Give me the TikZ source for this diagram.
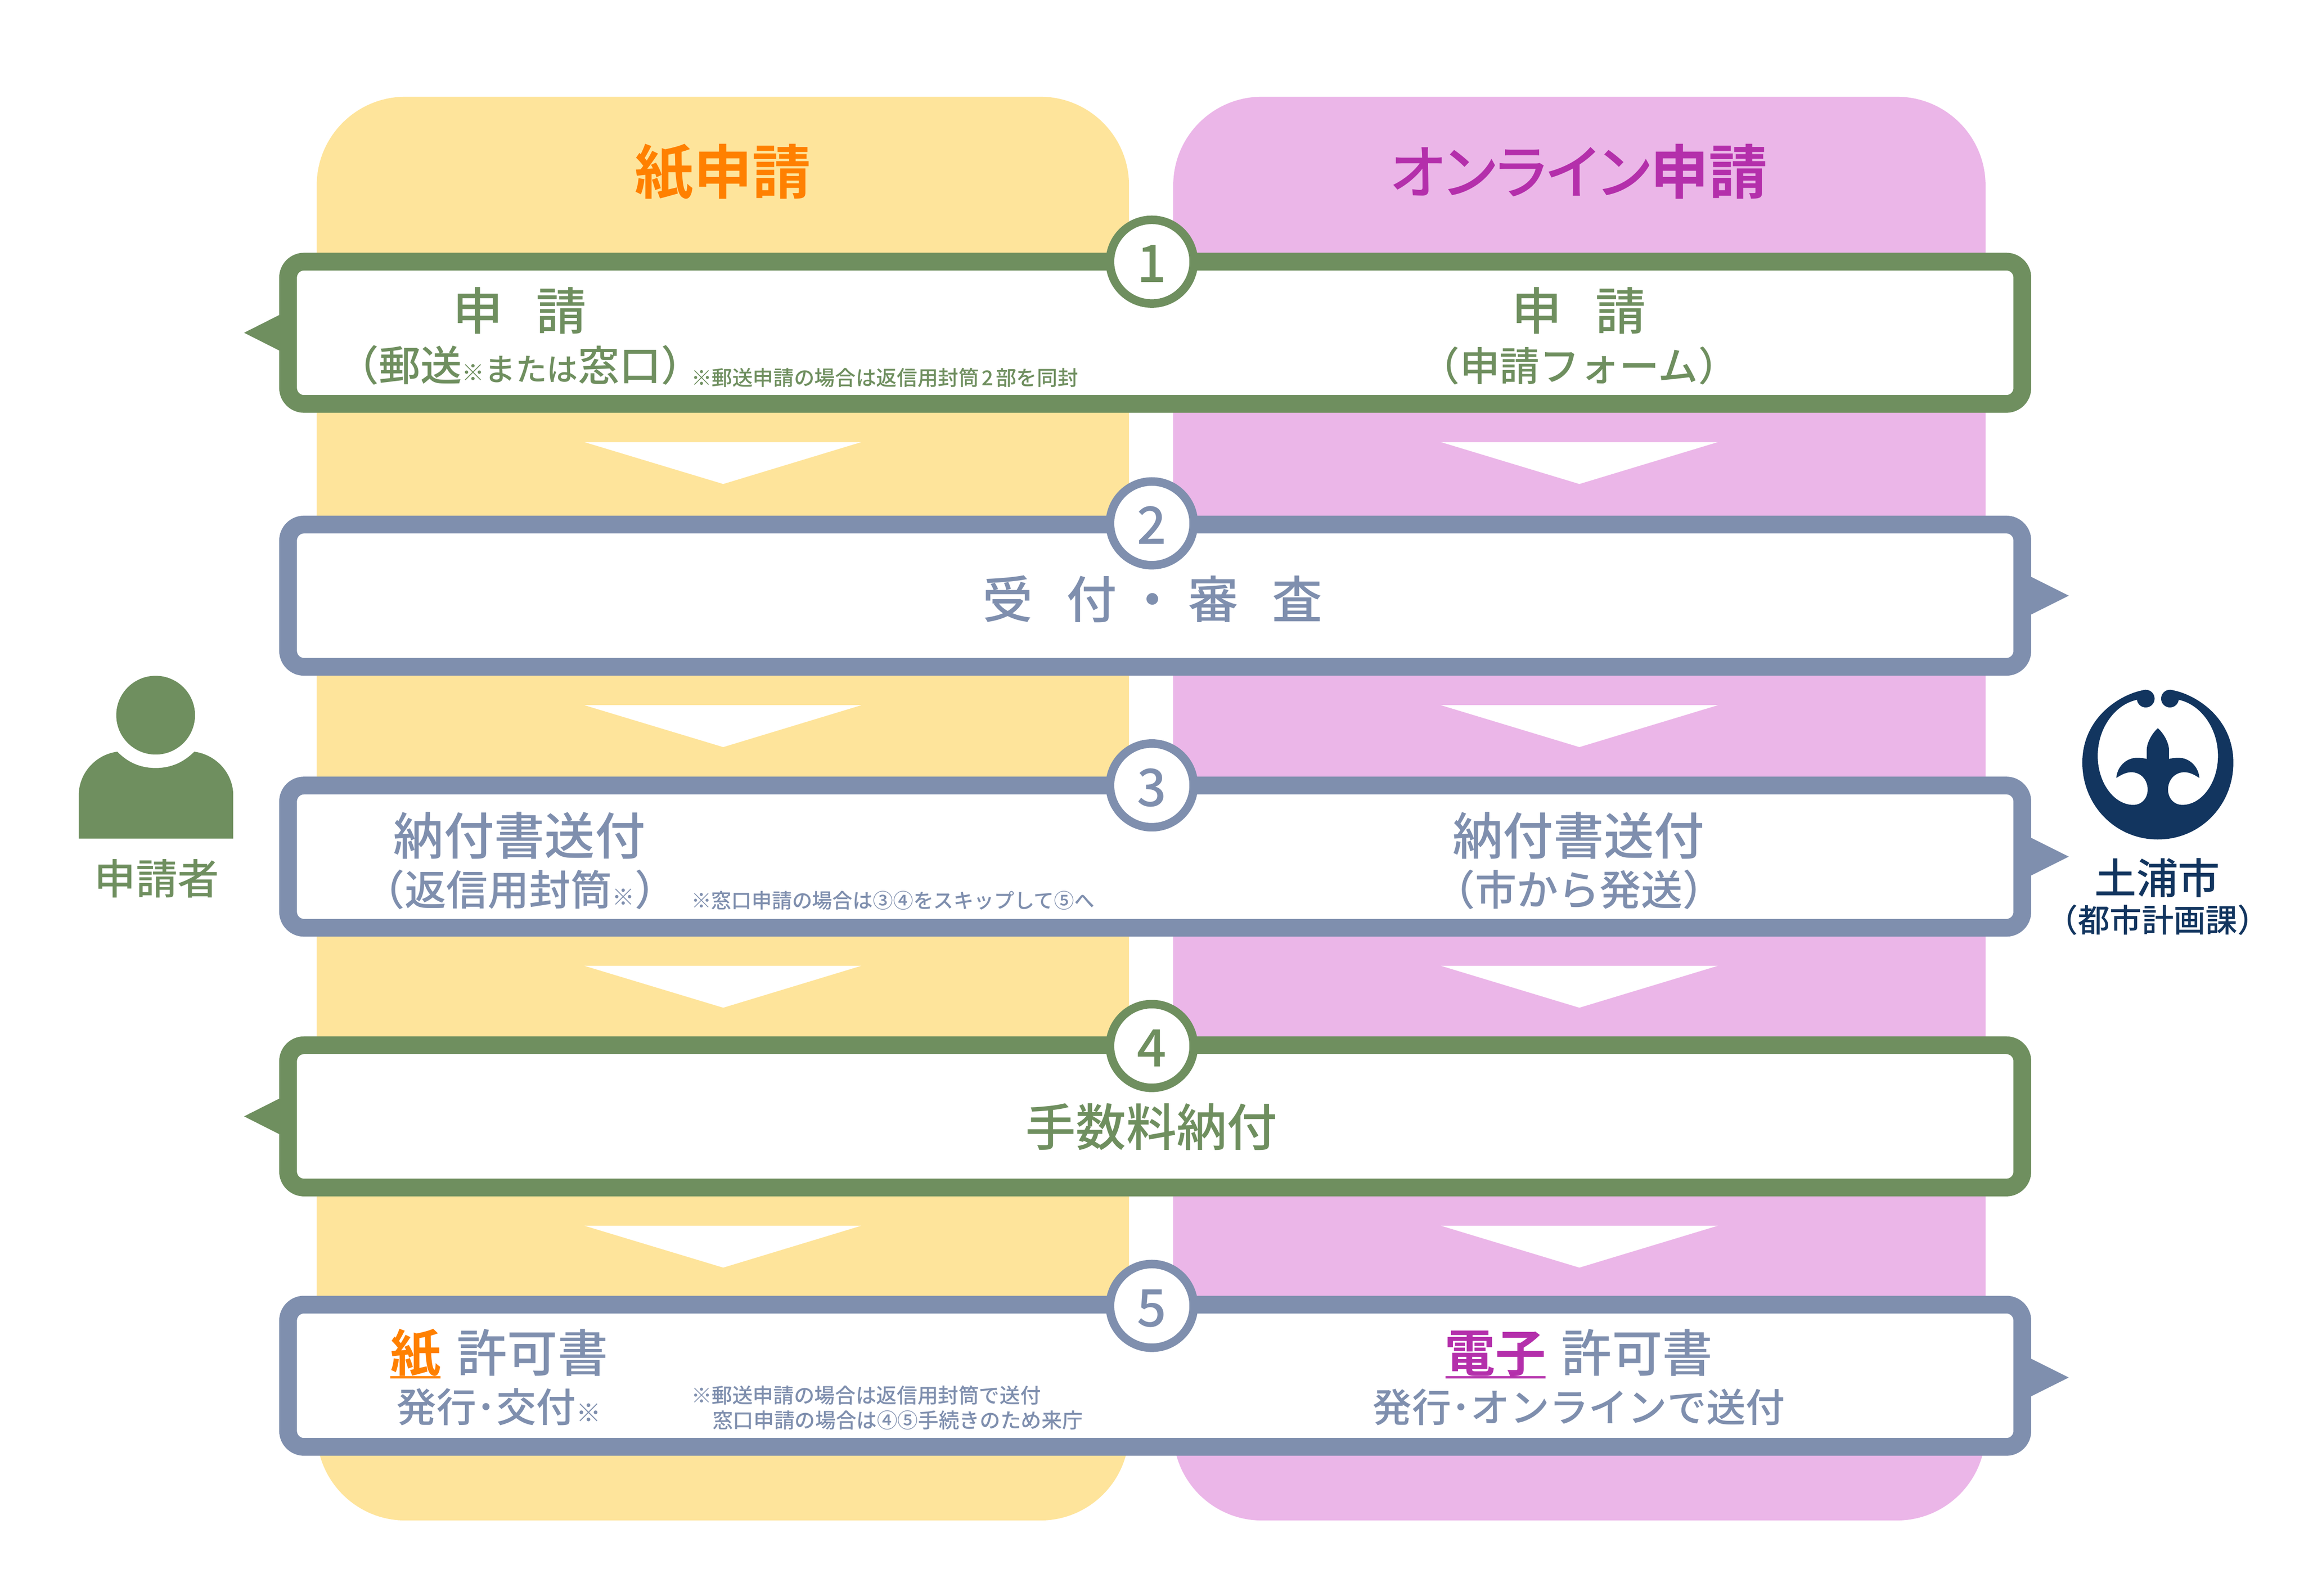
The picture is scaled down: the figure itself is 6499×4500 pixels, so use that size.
\documentclass[tikz,border=0pt]{standalone}
\usepackage{fontspec}
\setmainfont{Noto Sans CJK JP Medium}[BoldFont={Noto Sans CJK JP Bold}]
\newfontfamily\paltfont{Noto Sans CJK JP Medium}[RawFeature={+palt}]
\definecolor{paperyellow}{HTML}{FEE49B}
\definecolor{onlinepink}{HTML}{EBB6E8}
\definecolor{paperorange}{HTML}{FF8000}
\definecolor{onlinepurple}{HTML}{B42FAB}
\definecolor{stepgreen}{HTML}{6F8F5F}
\definecolor{stepblue}{HTML}{7F8FAE}
\definecolor{citynavy}{HTML}{12355F}
\newcommand{\tinymark}{{\fontsize{18}{18}\selectfont ※}}
\tikzset{
    panelbox/.style={rectangle, minimum width=22.9cm, minimum height=40.13cm, rounded corners=2.5cm, inner sep=0pt},
    stepbox/.style={rectangle, minimum width=48.89cm, minimum height=4.01cm, line width=0.5cm, rounded corners=0.45cm, fill=white, inner sep=0pt},
    numcircle/.style={circle, minimum size=2.36cm, line width=0.24cm, fill=white, inner sep=0pt, text height=1.3cm, text depth=0.13cm, font=\fontsize{41.5}{42}\selectfont},
    titletext/.style={anchor=base, inner sep=0pt, font=\fontsize{47}{48}\bfseries\selectfont},
    bigtext/.style={anchor=base, inner sep=0pt, font=\fontsize{40.4}{41}\selectfont},
    subtext/.style={anchor=base, inner sep=0pt, font=\fontsize{31.5}{32}\selectfont},
    subwide/.style={anchor=base, inner sep=0pt, font=\fontsize{33.3}{34}\selectfont},
    notetext/.style={anchor=base west, inner sep=0pt, font=\fontsize{16.5}{17}\selectfont},
}
\begin{document}
\begin{tikzpicture}[x=0.01cm, y=-0.01cm]
    \useasboundingbox (0,0) rectangle (6499,4500);

    \node [panelbox, fill=paperyellow] (paper_panel) at (2039, 2280.5) {};
    \node [panelbox, fill=onlinepink] (online_panel) at (4455, 2280.5) {};
    \node [titletext, text=paperorange] (paper_title) at (2039, 546) {紙申請};
    \node [titletext, text=onlinepurple] (online_title) at (4453, 546) {{\paltfont\mdseries オンライン}申請};

    \fill[white] (1649, 1247) -- (2429, 1247) -- (2040, 1365) -- cycle;
    \fill[white] (1649, 1989) -- (2429, 1989) -- (2040, 2107) -- cycle;
    \fill[white] (1649, 2724) -- (2429, 2724) -- (2040, 2842) -- cycle;
    \fill[white] (1649, 3457) -- (2429, 3457) -- (2040, 3575) -- cycle;
    \fill[white] (4065, 1247) -- (4845, 1247) -- (4455, 1365) -- cycle;
    \fill[white] (4065, 1989) -- (4845, 1989) -- (4455, 2107) -- cycle;
    \fill[white] (4065, 2724) -- (4845, 2724) -- (4455, 2842) -- cycle;
    \fill[white] (4065, 3457) -- (4845, 3457) -- (4455, 3575) -- cycle;

    \node [stepbox, draw=stepgreen] (box1) at (3258.5, 938.5) {};
    \node [stepbox, draw=stepblue] (box2) at (3258.5, 1680) {};
    \node [stepbox, draw=stepblue] (box3) at (3258.5, 2416) {};
    \node [stepbox, draw=stepgreen] (box4) at (3258.5, 3148.5) {};
    \node [stepbox, draw=stepblue] (box5) at (3258.5, 3880) {};

    \fill[stepgreen] ([xshift=0.1cm, yshift=0.5cm] box1.west) -- ([yshift=0.5cm] box1.west) -- ([xshift=-0.99cm] box1.west) -- ([yshift=-0.5cm] box1.west) -- ([xshift=0.1cm, yshift=-0.5cm] box1.west) -- cycle;
    \fill[stepgreen] ([xshift=0.1cm, yshift=0.5cm] box4.west) -- ([yshift=0.5cm] box4.west) -- ([xshift=-0.99cm] box4.west) -- ([yshift=-0.5cm] box4.west) -- ([xshift=0.1cm, yshift=-0.5cm] box4.west) -- cycle;
    \fill[stepblue] ([xshift=-0.1cm, yshift=0.53cm] box2.east) -- ([yshift=0.53cm] box2.east) -- ([xshift=1.06cm] box2.east) -- ([yshift=-0.53cm] box2.east) -- ([xshift=-0.1cm, yshift=-0.53cm] box2.east) -- cycle;
    \fill[stepblue] ([xshift=-0.1cm, yshift=0.53cm] box3.east) -- ([yshift=0.53cm] box3.east) -- ([xshift=1.06cm] box3.east) -- ([yshift=-0.53cm] box3.east) -- ([xshift=-0.1cm, yshift=-0.53cm] box3.east) -- cycle;
    \fill[stepblue] ([xshift=-0.1cm, yshift=0.48cm] box5.east) -- ([yshift=0.48cm] box5.east) -- ([xshift=1.06cm, yshift=-0.05cm] box5.east) -- ([yshift=-0.58cm] box5.east) -- ([xshift=-0.1cm, yshift=-0.58cm] box5.east) -- cycle;

    \node [numcircle, draw=stepgreen, text=stepgreen] (num1) at (3249, 738) {1};
    \node [numcircle, draw=stepblue, text=stepblue] (num2) at (3249, 1476) {2};
    \node [numcircle, draw=stepblue, text=stepblue] (num3) at (3249, 2215) {3};
    \node [numcircle, draw=stepgreen, text=stepgreen] (num4) at (3249, 2950) {4};
    \node [numcircle, draw=stepblue, text=stepblue] (num5) at (3249, 3683) {5};

    % step 1
    \node [bigtext, text=stepgreen] (apply_paper) at (1466, 929.5) {申\hspace{0.66em}請};
    \node [subwide, text=stepgreen] (apply_paper_sub) at (1467, 1074) {（郵送\tinymark{\fontsize{25}{26}\selectfont または}窓口）};
    \node [notetext, text=stepgreen] (note1) at (1949, 1087) {※郵送申請の場合は返信用封筒\hspace{0.12em}2\hspace{0.12em}部を同封};
    \node [bigtext, text=stepgreen] (apply_online) at (4453, 929.5) {申\hspace{0.66em}請};
    \node [subtext, text=stepgreen, font=\fontsize{32}{33}\selectfont] (apply_online_sub) at (4454, 1074) {（申請フォーム）};

    % step 2
    \node [bigtext, text=stepblue] (review) at (3251, 1743.5) {受\hspace{0.66em}付\hspace{0.21em}・\hspace{0.21em}審\hspace{0.66em}査};

    % step 3
    \node [bigtext, text=stepblue] (invoice_paper) at (1465, 2410.5) {納付書送付};
    \node [subwide, text=stepblue] (invoice_paper_sub) at (1466, 2554) {（返信用封筒\tinymark）};
    \node [notetext, text=stepblue, font=\fontsize{16.2}{17}\selectfont] (note3) at (1949, 2561) {※窓口申請の場合は③④をスキップして⑤へ};
    \node [bigtext, text=stepblue] (invoice_online) at (4453, 2410.5) {納付書送付};
    \node [subwide, text=stepblue] (invoice_online_sub) at (4454, 2554) {（市から発送）};

    % step 4
    \node [bigtext, text=stepgreen] (fee) at (3248, 3232.5) {手数料納付};

    % step 5
    \node [bigtext, text=paperorange, font=\fontsize{40.4}{41}\bfseries\selectfont] (paper_word) at (1172, 3868.5) {紙};
    \draw[paperorange, line width=0.07cm] (1101, 3884.5) -- (1243, 3884.5);
    \node [bigtext, text=stepblue] (permit_paper) at (1502, 3868.5) {許可書};
    \node [subtext, text=stepblue, font=\fontsize{32}{33}\selectfont] (permit_paper_sub) at (1407, 4011) {発行･交付{\fontsize{20}{20}\selectfont ※}};
    \node [notetext, text=stepblue] (note5a) at (1949, 3957) {※郵送申請の場合は返信用封筒で送付};
    \node [notetext, text=stepblue] (note5b) at (2009, 4027) {窓口申請の場合は④⑤手続きのため来庁};
    \node [bigtext, text=onlinepurple, font=\fontsize{40.4}{41}\bfseries\selectfont] (online_word) at (4218, 3868.5) {電子};
    \draw[onlinepurple, line width=0.07cm] (4077, 3884.5) -- (4360, 3884.5);
    \node [bigtext, text=stepblue] (permit_online) at (4618, 3868.5) {許可書};
    \node [subtext, text=stepblue] (permit_online_sub) at (4453.5, 4011) {発行･オンラインで送付};

    % applicant
    \fill[stepgreen] (439, 2017) circle [radius=1.11cm];
    \fill[stepgreen] (222, 2365) -- (222, 2244) .. controls (222, 2180) and (270, 2128) .. (331, 2120) .. controls (360, 2150) and (395, 2166) .. (439, 2166) .. controls (483, 2166) and (518, 2150) .. (548, 2120) .. controls (609, 2128) and (658, 2180) .. (658, 2244) -- (658, 2365) -- cycle;
    \node [subwide, text=stepgreen] (applicant) at (442, 2522) {申請者};

    % city
    \begin{scope}[shift={(5600, 1850)}, x=0.00542cm, y=-0.00542cm]
        \fill[citynavy] (835, 222) circle [radius=0.2493cm];
        \fill[citynavy] (961, 222) circle [radius=0.2493cm];
        \fill[citynavy] (835, 176) .. controls (720, 190) and (505, 310) .. (505, 555) .. controls (505, 780) and (680, 955) .. (898, 955) .. controls (1116, 955) and (1291, 780) .. (1291, 555) .. controls (1291, 310) and (1076, 190) .. (961, 176) -- (1006, 228) .. controls (1116, 250) and (1211, 370) .. (1211, 520) .. controls (1211, 660) and (1126, 775) .. (1026, 775) .. controls (981, 775) and (951, 740) .. (951, 695) .. controls (951, 645) and (986, 605) .. (1036, 605) .. controls (1066, 605) and (1091, 620) .. (1114, 635) .. controls (1111, 580) and (1066, 530) .. (1006, 530) .. controls (986, 530) and (971, 532) .. (956, 536) -- (956, 490) .. controls (956, 450) and (926, 400) .. (898, 376) .. controls (870, 400) and (840, 450) .. (840, 490) -- (840, 536) .. controls (825, 532) and (810, 530) .. (790, 530) .. controls (730, 530) and (685, 580) .. (682, 635) .. controls (705, 620) and (730, 605) .. (760, 605) .. controls (810, 605) and (845, 645) .. (845, 695) .. controls (845, 740) and (815, 775) .. (770, 775) .. controls (670, 775) and (585, 660) .. (585, 520) .. controls (585, 370) and (680, 250) .. (790, 228) -- cycle;
    \end{scope}
    \node [anchor=base, inner sep=0pt, text=citynavy, font=\fontsize{33.6}{34}\selectfont] (city) at (6085, 2521) {土浦市};
    \node [anchor=base, inner sep=0pt, text=citynavy, font=\fontsize{25.6}{26}\selectfont] (city_dept) at (6086.5, 2629) {（都市計画課）};
\end{tikzpicture}
\end{document}
